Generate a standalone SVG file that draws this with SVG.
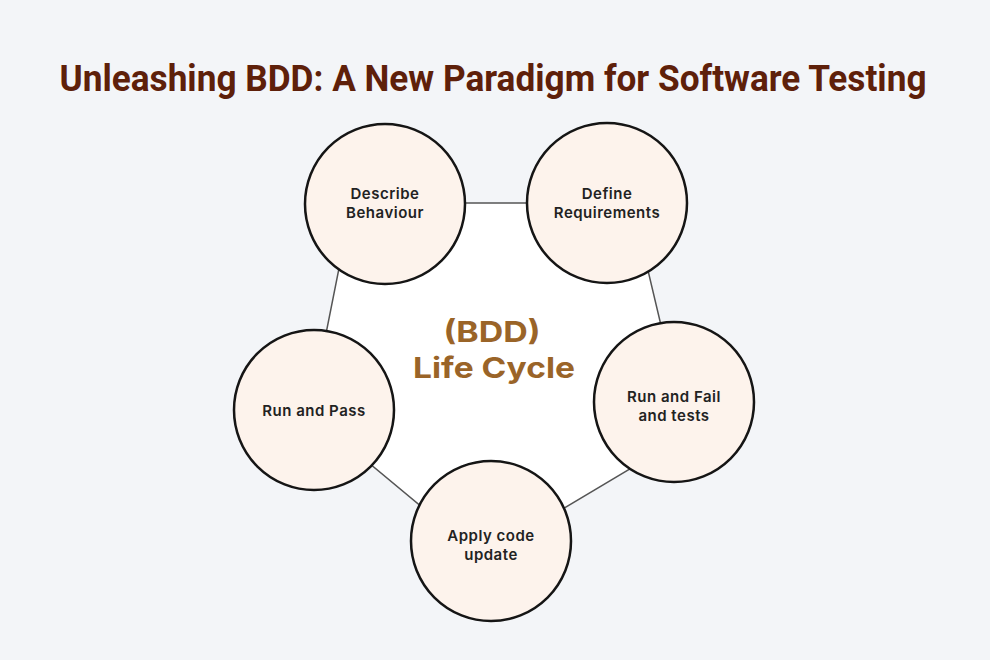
<svg xmlns="http://www.w3.org/2000/svg" width="990" height="660" viewBox="0 0 990 660">
<style>
.node circle{fill:#FDF3EC;stroke:#151515;stroke-width:2.5}
.lbl{font-family:Inter,"Noto Sans",sans-serif;font-weight:600;font-size:15px;letter-spacing:0.5px;fill:#222;text-anchor:middle}
.ctr{font-family:Inter,"Noto Sans",sans-serif;font-weight:700;font-size:29px;fill:#9A6428;text-anchor:middle}
</style>
<rect width="990" height="660" fill="#F3F5F8"/>
<text x="493" y="91" font-family="Roboto,'Liberation Sans',sans-serif" font-weight="700" font-size="36" fill="#5E200A" textLength="867" lengthAdjust="spacingAndGlyphs" text-anchor="middle">Unleashing BDD: A New Paradigm for Software Testing</text>
<g id="connectors">
<polygon points="352,203 632,203 687,435 482,557 310,414" fill="#FFFFFF" stroke="#555" stroke-width="1.5"/>
</g>
<g id="center-label">
<text class="ctr" x="492" y="342" textLength="97" lengthAdjust="spacingAndGlyphs">(BDD)</text>
<text class="ctr" x="494" y="378" textLength="162" lengthAdjust="spacingAndGlyphs">Life Cycle</text>
</g>
<g id="describe" class="node">
<circle cx="385" cy="204" r="80"/>
<text class="lbl" x="385" y="199">Describe</text>
<text class="lbl" x="385" y="218">Behaviour</text>
</g>
<g id="define" class="node">
<circle cx="607" cy="203" r="80"/>
<text class="lbl" x="607" y="199">Define</text>
<text class="lbl" x="607" y="218">Requirements</text>
</g>
<g id="runfail" class="node">
<circle cx="674" cy="402" r="80"/>
<text class="lbl" x="674" y="402">Run and Fail</text>
<text class="lbl" x="674" y="421">and tests</text>
</g>
<g id="apply" class="node">
<circle cx="491" cy="541" r="80"/>
<text class="lbl" x="491" y="541">Apply code</text>
<text class="lbl" x="491" y="560">update</text>
</g>
<g id="runpass" class="node">
<circle cx="314" cy="410" r="80"/>
<text class="lbl" x="314" y="416">Run and Pass</text>
</g>
</svg>
